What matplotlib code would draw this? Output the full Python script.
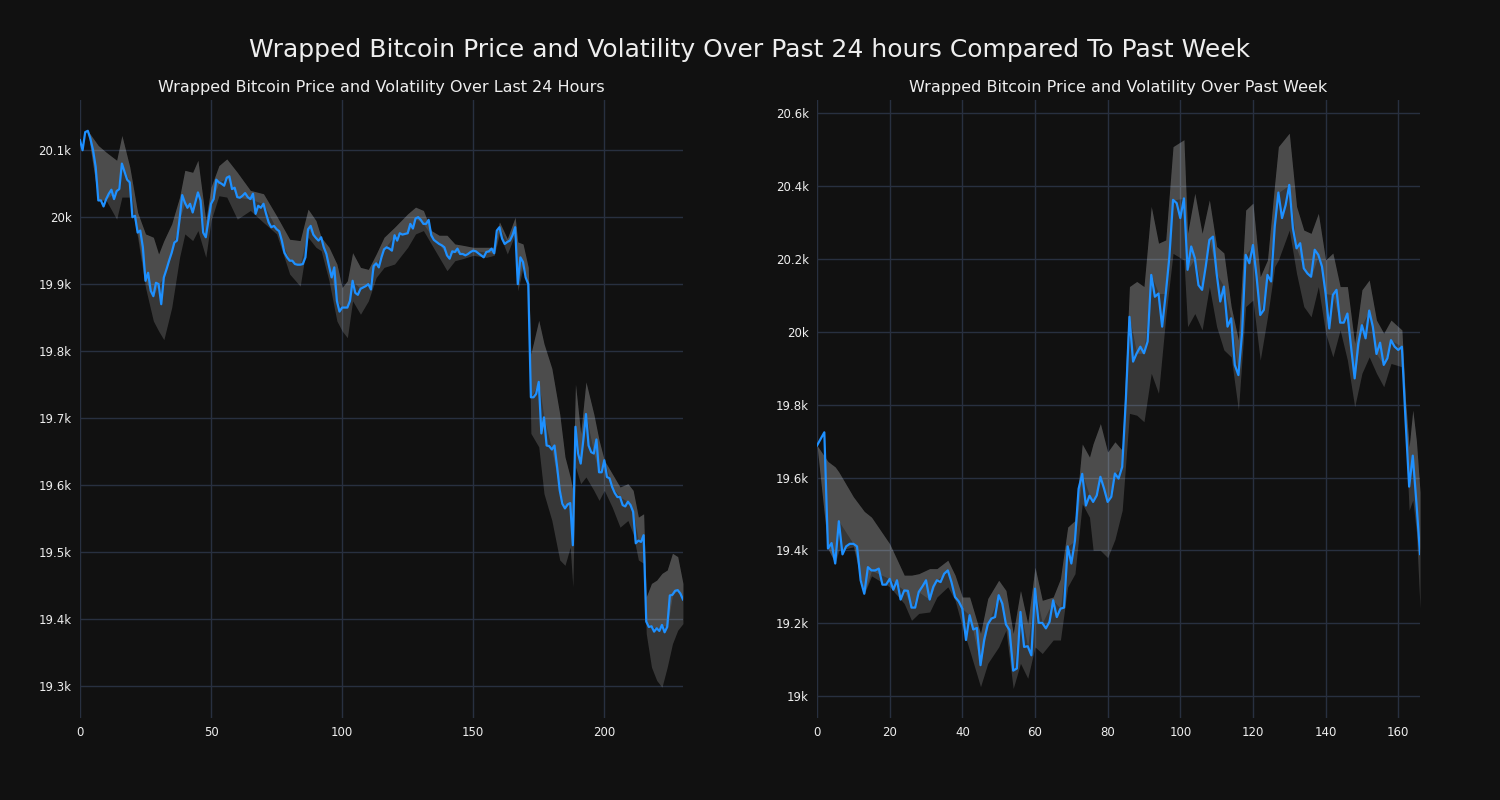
import numpy as np
import matplotlib
matplotlib.use('Agg')
from matplotlib import pyplot as plt
from matplotlib.ticker import FuncFormatter

# ---- data ----
# last 24 hours: one price per step (x = 0..230)
day_price = [
    20115, 20100, 20127, 20129, 20117, 20100, 20075, 20025, 20025, 20016,
    20027, 20035, 20041, 20027, 20039, 20042, 20080, 20068, 20056, 20052,
    20000, 20002, 19977, 19980, 19955, 19905, 19917, 19890, 19882, 19902,
    19900, 19870, 19910, 19922, 19935, 19947, 19962, 19965, 19997, 20033,
    20022, 20014, 20020, 20007, 20022, 20037, 20025, 19977, 19970, 19995,
    20020, 20027, 20056, 20052, 20050, 20047, 20059, 20061, 20042, 20044,
    20030, 20029, 20032, 20036, 20030, 20027, 20035, 20005, 20017, 20014,
    20020, 20005, 19992, 19985, 19987, 19982, 19979, 19965, 19947, 19940,
    19935, 19935, 19930, 19929, 19929, 19930, 19940, 19982, 19987, 19974,
    19969, 19965, 19970, 19955, 19945, 19927, 19910, 19925, 19875, 19859,
    19865, 19865, 19865, 19875, 19905, 19887, 19884, 19893, 19895, 19897,
    19900, 19892, 19927, 19931, 19925, 19940, 19952, 19955, 19953, 19950,
    19973, 19965, 19976, 19974, 19975, 19976, 19990, 19983, 19998, 20000,
    19996, 19990, 19990, 19996, 19973, 19966, 19963, 19960, 19958, 19955,
    19943, 19938, 19949, 19948, 19953, 19945, 19945, 19943, 19945, 19948,
    19950, 19949, 19946, 19943, 19940, 19948, 19949, 19953, 19946, 19980,
    19985, 19968, 19960, 19963, 19965, 19973, 19985, 19900, 19940, 19933,
    19910, 19900, 19731, 19731, 19736, 19754, 19677, 19701, 19659, 19658,
    19653, 19659, 19627, 19592, 19572, 19565, 19571, 19573, 19510, 19687,
    19647, 19632, 19667, 19706, 19659, 19649, 19647, 19668, 19619, 19619,
    19637, 19612, 19610, 19597, 19588, 19582, 19582, 19570, 19568, 19575,
    19570, 19560, 19513, 19517, 19515, 19525, 19396, 19388, 19389, 19381,
    19386, 19382, 19391, 19380, 19388, 19435, 19436, 19442, 19443, 19438,
    19429,
]
# volatility band (sampled steps)
day_band_x = [
    3, 7, 10, 14, 16, 19, 22, 25, 28, 30, 32, 35, 38, 40, 43, 45, 48, 50,
    53, 56, 60, 65, 70, 75, 80, 84, 87, 90, 92, 95, 98, 100, 102, 104, 107,
    110, 113, 116, 120, 125, 128, 131, 134, 137, 140, 143, 146, 150, 155,
    158, 160, 163, 166, 167, 169, 171, 172, 175, 177, 180, 183, 185, 187,
    188, 189, 191, 193, 196, 198, 200, 203, 206, 209, 211, 213, 215, 216,
    218, 220, 222, 224, 226, 228, 230,
]
day_band_hi = [
    20129, 20107, 20097, 20085, 20122, 20075, 20007, 19975, 19970, 19945,
    19965, 19990, 20030, 20070, 20067, 20085, 19995, 20045, 20077, 20087,
    20067, 20040, 20035, 20002, 19967, 19965, 20012, 19995, 19970, 19955,
    19930, 19895, 19905, 19947, 19925, 19922, 19945, 19970, 19985, 20005,
    20015, 20010, 19980, 19973, 19973, 19960, 19958, 19955, 19955, 19955,
    19993, 19968, 20000, 19963, 19960, 19925, 19796, 19846, 19811, 19774,
    19706, 19642, 19612, 19592, 19751, 19677, 19754, 19706, 19667, 19637,
    19617, 19597, 19602, 19592, 19552, 19557, 19433, 19453, 19458, 19468,
    19473, 19498, 19493, 19453,
]
day_band_lo = [
    20129, 20025, 20025, 19997, 20030, 20030, 19970, 19895, 19845, 19830,
    19817, 19865, 19940, 19975, 19965, 19980, 19940, 19995, 20032, 20030,
    19997, 20010, 19992, 19975, 19915, 19897, 19970, 19955, 19950, 19905,
    19845, 19830, 19820, 19875, 19855, 19875, 19910, 19925, 19930, 19955,
    19975, 19980, 19960, 19940, 19920, 19935, 19938, 19943, 19940, 19943,
    19975, 19945, 19975, 19890, 19925, 19895, 19677, 19657, 19587, 19547,
    19488, 19480, 19507, 19448, 19627, 19602, 19612, 19592, 19577, 19592,
    19567, 19537, 19547, 19527, 19488, 19483, 19378, 19328, 19308, 19298,
    19328, 19363, 19383, 19393,
]

# past week: one price per step (x = 0..166)
week_price = [
    19688, 19706, 19724, 19405, 19420, 19364, 19480, 19389, 19411, 19418,
    19418, 19411, 19318, 19281, 19354, 19345, 19345, 19350, 19306, 19306,
    19322, 19292, 19318, 19265, 19290, 19289, 19243, 19243, 19286, 19301,
    19318, 19265, 19300, 19318, 19313, 19336, 19345, 19313, 19272, 19260,
    19240, 19154, 19222, 19183, 19187, 19085, 19154, 19197, 19213, 19217,
    19277, 19254, 19197, 19181, 19070, 19076, 19231, 19135, 19137, 19112,
    19295, 19201, 19201, 19186, 19204, 19263, 19217, 19240, 19243, 19411,
    19364, 19427, 19569, 19610, 19523, 19550, 19533, 19551, 19602, 19570,
    19533, 19547, 19611, 19597, 19629, 19812, 20041, 19918, 19941, 19959,
    19941, 19973, 20156, 20096, 20105, 20014, 20105, 20206, 20362, 20353,
    20312, 20366, 20170, 20234, 20202, 20128, 20115, 20179, 20252, 20261,
    20160, 20083, 20124, 20014, 20037, 19909, 19881, 19996, 20211, 20188,
    20238, 20151, 20046, 20060, 20156, 20138, 20289, 20382, 20312, 20348,
    20403, 20284, 20229, 20243, 20174, 20160, 20151, 20225, 20211, 20179,
    20105, 20009, 20101, 20115, 20025, 20025, 20050, 19959, 19872, 19968,
    20018, 19982, 20058, 20014, 19939, 19970, 19909, 19927, 19977, 19959,
    19950, 19959, 19758, 19575, 19660, 19530, 19390,
]
week_band_x = [
    0, 3, 5, 6, 10, 13, 15, 20, 24, 26, 28, 31, 33, 36, 38, 40, 42, 45, 47,
    50, 52, 54, 56, 58, 60, 62, 65, 67, 69, 71, 73, 75, 76, 78, 80, 82, 84,
    86, 88, 90, 92, 94, 96, 98, 101, 102, 104, 106, 108, 110, 112, 114, 116,
    118, 120, 122, 124, 126, 127, 130, 132, 134, 136, 138, 140, 142, 144,
    146, 148, 150, 152, 154, 156, 158, 161, 162, 163, 164, 165, 166,
]
week_band_hi = [
    19688, 19644, 19629, 19615, 19547, 19507, 19491, 19418, 19332, 19332,
    19336, 19350, 19350, 19373, 19332, 19272, 19272, 19172, 19268, 19318,
    19290, 19172, 19290, 19199, 19354, 19263, 19272, 19322, 19464, 19482,
    19692, 19656, 19693, 19748, 19670, 19698, 19675, 20124, 20138, 20124,
    20344, 20243, 20252, 20508, 20527, 20270, 20380, 20270, 20362, 20234,
    20216, 20069, 19977, 20334, 20353, 20151, 20197, 20408, 20508, 20545,
    20344, 20279, 20270, 20325, 20197, 20216, 20124, 20124, 19968, 20115,
    20142, 20032, 19996, 20032, 20005, 19812, 19684, 19785, 19700, 19560,
]
week_band_lo = [
    19688, 19405, 19364, 19400, 19410, 19281, 19330, 19300, 19254, 19208,
    19227, 19231, 19272, 19300, 19263, 19190, 19126, 19026, 19090, 19135,
    19181, 19021, 19090, 19049, 19135, 19117, 19154, 19154, 19300, 19336,
    19528, 19491, 19400, 19400, 19380, 19430, 19510, 19776, 19771, 19753,
    19886, 19831, 20041, 20215, 20197, 20014, 20050, 20005, 20124, 20014,
    19950, 19931, 19785, 20069, 20087, 19922, 20041, 20179, 20197, 20279,
    20160, 20069, 20041, 20124, 19996, 19931, 20005, 19922, 19794, 19886,
    19931, 19886, 19849, 19913, 19904, 19721, 19510, 19538, 19450, 19240,
]

main_title = 'Wrapped Bitcoin Price and Volatility Over Past 24 hours Compared To Past Week'
day_title = 'Wrapped Bitcoin Price and Volatility Over Last 24 Hours'
week_title = 'Wrapped Bitcoin Price and Volatility Over Past Week'

bg = '#111111'
txt = '#eeeeee'
grid = '#283040'
line_color = '#1E90FF'


def k_fmt(v, pos):
    return f"{v / 1000:g}k"


def draw_panel(ax, price, band_x, band_hi, band_lo, title, xmax, ylim, yticks, xticks):
    x = np.arange(len(price))
    price = np.array(price)
    bx = np.array(band_x)
    mid = price[bx]
    # darker full band, lighter part above the price
    ax.fill_between(bx, band_lo, band_hi, color='white', alpha=0.16, linewidth=0, zorder=2)
    ax.fill_between(bx, mid, band_hi, color='white', alpha=0.11, linewidth=0, zorder=2)
    ax.plot(x, price, color=line_color, linewidth=1.6, zorder=3)

    ax.set_facecolor(bg)
    ax.set_xlim(0, xmax)
    ax.set_ylim(*ylim)
    ax.set_yticks(yticks)
    ax.set_xticks(xticks)
    ax.yaxis.set_major_formatter(FuncFormatter(k_fmt))
    ax.grid(True, color=grid, linewidth=1.0, zorder=0)
    ax.set_axisbelow(True)
    for s in ax.spines.values():
        s.set_visible(False)
    ax.tick_params(colors=txt, labelsize=8.5, length=0, pad=6)
    ax.set_title(title, color=txt, fontsize=11.5, pad=6)


fig = plt.figure(figsize=(15, 8), dpi=100, facecolor=bg)
ax1 = fig.add_axes([0.0533, 0.1025, 0.402, 0.7725])
ax2 = fig.add_axes([0.5447, 0.1025, 0.402, 0.7725])

draw_panel(ax1, day_price, day_band_x, day_band_hi, day_band_lo, day_title,
           230, (19252, 20175),
           [19300, 19400, 19500, 19600, 19700, 19800, 19900, 20000, 20100],
           [0, 50, 100, 150, 200])
draw_panel(ax2, week_price, week_band_x, week_band_hi, week_band_lo, week_title,
           166, (18940, 20636),
           [19000, 19200, 19400, 19600, 19800, 20000, 20200, 20400, 20600],
           [0, 20, 40, 60, 80, 100, 120, 140, 160])

fig.suptitle(main_title, color=txt, fontsize=18, y=0.9375, va='center')

plt.savefig('out.png', dpi=100, facecolor=bg)
